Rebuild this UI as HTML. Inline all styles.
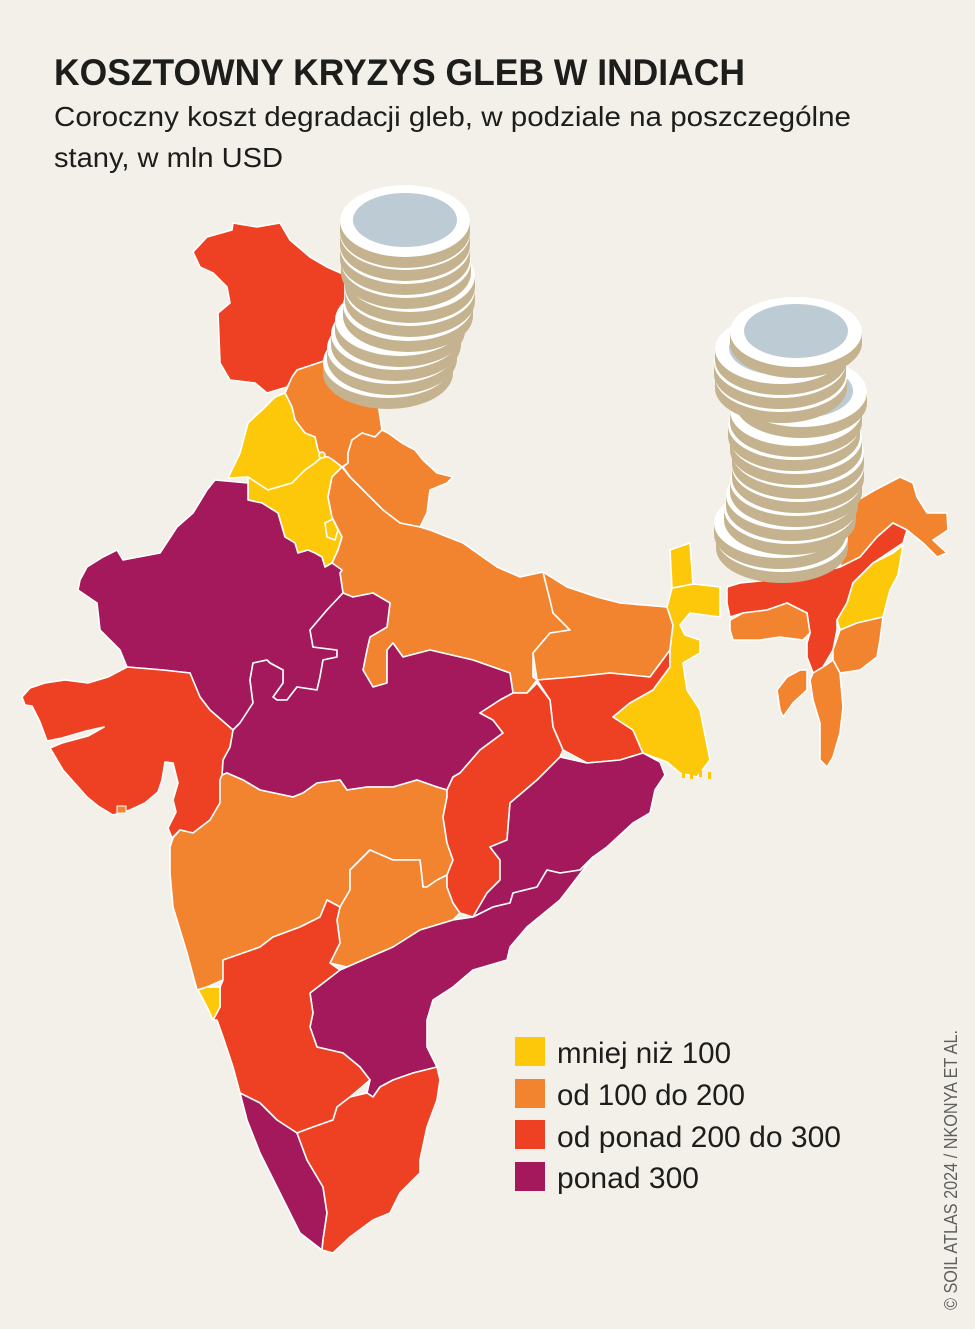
<!DOCTYPE html>
<html><head><meta charset="utf-8">
<style>
html,body{margin:0;padding:0;background:#f3f0e9;}
svg{display:block;}
</style></head>
<body>
<svg width="975" height="1329" viewBox="0 0 975 1329" xmlns="http://www.w3.org/2000/svg">
<defs>
<g id="c1"><ellipse cx="0" cy="11" rx="65" ry="36" fill="#c4b38e"/><rect x="-65" y="0" width="130" height="11" fill="#c4b38e"/><ellipse cx="0" cy="0" rx="65" ry="36" fill="#fff"/><ellipse cx="0" cy="-1" rx="52" ry="27" fill="#bdcbd4"/></g>
<g id="c2"><ellipse cx="0" cy="11" rx="66" ry="35" fill="#c4b38e"/><rect x="-66" y="0" width="132" height="11" fill="#c4b38e"/><ellipse cx="0" cy="0" rx="66" ry="35" fill="#fff"/><ellipse cx="0" cy="-1" rx="52" ry="27" fill="#bdcbd4"/></g>
</defs>
<rect width="975" height="1329" fill="#f3f0e9"/>

<text x="54" y="85" font-family="Liberation Sans, sans-serif" font-weight="bold" font-size="37" fill="#1d1d1b" textLength="691" lengthAdjust="spacingAndGlyphs">KOSZTOWNY KRYZYS GLEB W INDIACH</text>
<text x="54" y="126" font-family="Liberation Sans, sans-serif" font-size="28" fill="#1d1d1b" textLength="797" lengthAdjust="spacingAndGlyphs">Coroczny koszt degradacji gleb, w podziale na poszczególne</text>
<text x="54" y="167" font-family="Liberation Sans, sans-serif" font-size="28" fill="#1d1d1b" textLength="229" lengthAdjust="spacingAndGlyphs">stany, w mln USD</text>

<g stroke="#ffffff" stroke-width="1.6" stroke-linejoin="round">
<!-- J&K red -->
<polygon fill="#ee4123" points="193,252 207,237 232,230 233,223 257,227 280,223 290,240 310,257 327,267 345,275 345,320 337,335 327,360 297,370 287,387 267,393 255,383 230,380 220,363 218,313 230,303 227,287 213,273 200,267"/>
<!-- HP orange -->
<polygon fill="#f2832f" points="285,393 292,377 297,370 327,360 345,362 370,395 378,403 382,430 375,437 362,433 352,440 348,453 348,463 342,467 333,460 328,457 322,457 318,450 315,437 305,433 295,420 292,407"/>
<!-- Punjab yellow -->
<polygon fill="#fec80a" points="275,397 285,393 292,407 295,420 305,433 315,437 318,450 322,457 315,463 305,470 292,483 268,490 248,477 228,478 240,453 248,423 262,410"/>
<!-- Haryana yellow -->
<polygon fill="#fec80a" points="248,477 268,490 292,483 305,470 315,463 322,457 328,457 333,460 342,467 332,477 328,497 332,517 342,537 338,550 332,563 325,567 322,557 315,553 308,550 298,553 295,543 285,537 278,513 262,503 248,500 248,483"/>
<polygon fill="#fec80a" points="325,523 333,519 338,530 335,540 327,537"/>
<circle cx="322" cy="455" r="3" fill="#fec80a"/>
<!-- Uttarakhand orange -->
<polygon fill="#f2832f" points="343,467 348,463 348,453 352,440 362,433 375,437 382,430 388,433 402,443 415,450 423,460 437,473 453,477 447,483 430,490 427,513 420,527 400,523 383,510 363,490 350,477"/>
<!-- UP orange -->
<polygon fill="#f2832f" points="342,467 350,477 363,490 383,510 400,523 420,527 430,530 463,543 497,567 520,577 543,572 550,600 553,613 570,630 550,633 533,653 533,677 537,680 527,693 513,693 510,673 473,660 430,650 403,657 393,643 387,650 387,683 373,687 363,670 367,650 370,637 387,627 390,603 373,593 353,597 343,593 340,573 342,570 332,563 338,550 342,537 332,517 328,497 332,477"/>
<!-- Rajasthan purple -->
<polygon fill="#a3195b" points="78,590 80,580 87,567 103,557 117,550 123,560 160,553 177,527 193,513 207,490 215,480 248,483 248,500 262,503 278,513 285,537 295,543 298,553 308,550 315,553 322,557 325,567 332,563 342,570 340,573 343,593 327,610 310,630 313,647 337,650 337,657 323,660 320,677 317,690 297,687 287,700 277,700 273,697 283,683 283,670 270,663 267,660 253,663 250,680 253,703 240,723 233,730 210,710 200,697 190,673 163,670 127,667 120,650 100,630 97,603"/>
<!-- MP purple -->
<polygon fill="#a3195b" points="233,730 240,723 253,703 250,680 253,663 267,660 270,663 283,670 283,683 273,697 277,700 287,700 297,687 317,690 320,677 323,660 337,657 337,650 313,647 310,630 327,610 343,593 353,597 373,593 390,603 387,627 370,637 367,650 363,670 373,687 387,683 387,650 393,643 403,657 430,650 473,660 510,673 513,693 500,700 480,713 493,720 503,733 480,750 460,773 453,777 447,790 437,787 417,780 393,787 367,787 347,790 340,780 317,783 303,793 293,797 260,790 243,780 227,773 222,775 223,760 230,747"/>
<!-- Gujarat red -->
<polygon fill="#ee4123" points="22,697 30,688 45,683 65,680 88,683 108,677 127,667 163,670 190,673 200,697 210,710 233,730 230,747 223,760 222,775 220,780 220,803 210,820 193,833 180,830 172,838 168,828 176,812 173,800 178,783 173,763 165,762 162,780 158,792 145,803 130,810 113,815 98,806 87,797 63,770 50,748 62,743 88,736 104,727 86,731 62,738 47,741 40,722 32,706 25,705"/>
<rect x="117" y="806" width="9" height="7" fill="#f2832f" stroke-width="1"/>
<!-- Maharashtra orange -->
<polygon fill="#f2832f" points="222,775 227,773 243,780 260,790 293,797 303,793 317,783 340,780 347,790 367,787 393,787 417,780 437,787 447,790 447,797 443,817 447,843 453,860 447,875 437,880 427,887 423,887 420,860 393,860 370,850 350,870 350,890 340,907 327,900 320,917 300,927 273,937 260,947 227,960 223,980 207,987 197,990 187,953 173,907 170,873 170,847 173,838 180,830 193,833 210,820 220,803 220,780"/>
<!-- Telangana orange -->
<polygon fill="#f2832f" points="370,850 393,860 420,860 423,887 427,887 437,880 447,875 447,887 453,903 460,913 453,920 420,930 393,947 347,967 330,963 340,943 337,920 340,907 350,890 350,870"/>
<!-- Bihar orange -->
<polygon fill="#f2832f" points="543,572 567,587 597,597 620,603 667,607 673,625 670,650 650,677 610,673 573,677 537,680 533,653 550,633 570,630 553,613 550,600"/>
<!-- Jharkhand red -->
<polygon fill="#ee4123" points="537,680 573,677 610,673 650,677 670,650 670,667 653,690 630,703 613,717 633,730 643,753 620,760 587,763 563,750 553,727 550,700"/>
<!-- Chhattisgarh red -->
<polygon fill="#ee4123" points="513,693 527,693 537,683 550,700 553,727 563,750 560,757 537,780 510,803 507,840 490,847 500,860 500,880 487,893 473,917 460,913 453,903 447,887 447,875 453,860 447,843 443,817 447,797 447,790 453,777 460,773 480,750 503,733 493,720 480,713 500,700"/>
<!-- Odisha purple -->
<polygon fill="#a3195b" points="560,757 587,763 620,760 643,753 660,762 665,775 655,790 650,813 633,823 607,847 593,857 580,870 560,873 547,870 537,887 513,893 510,903 493,907 473,917 487,893 500,880 500,860 490,847 507,840 510,803 537,780"/>
<!-- West Bengal yellow -->
<polygon fill="#fec80a" points="672,588 693,584 720,587 720,617 690,613 680,625 685,635 700,640 700,653 683,663 687,690 700,710 710,760 697,777 680,773 667,762 643,753 633,730 613,717 630,703 653,690 670,667 670,650 673,625 667,607"/>
<!-- Sikkim -->
<polygon fill="#fec80a" points="670,550 690,543 693,584 672,588"/>
<g fill="#fec80a" stroke="none"><rect x="682" y="771" width="3" height="7"/><rect x="690" y="772" width="3" height="7"/><rect x="699" y="770" width="3" height="7"/><rect x="708" y="772" width="3" height="7"/></g>
<!-- Andhra Pradesh purple -->
<polygon fill="#a3195b" points="347,967 393,947 420,930 453,920 473,917 493,907 510,903 513,893 537,887 547,870 560,873 580,870 593,857 560,900 527,927 510,947 507,960 473,970 453,987 433,1000 427,1020 427,1047 437,1067 413,1073 393,1080 380,1087 373,1097 367,1093 370,1080 360,1067 343,1053 317,1047 310,1027 313,1013 310,993 327,980 340,970"/>
<!-- Karnataka red -->
<polygon fill="#ee4123" points="223,960 260,947 273,937 300,927 320,917 327,900 340,907 337,920 340,943 330,963 340,970 327,980 310,993 313,1013 310,1027 317,1047 343,1053 360,1067 370,1080 350,1097 337,1107 333,1120 313,1127 297,1133 277,1120 260,1103 240,1093 233,1067 223,1037 217,1020 213,1020 220,1007 220,987 223,980"/>
<!-- Goa yellow -->
<polygon fill="#fec80a" points="198,990 207,987 220,987 220,1007 213,1020 207,1007"/>
<!-- Kerala purple -->
<polygon fill="#a3195b" points="240,1093 260,1103 277,1120 297,1133 307,1160 323,1187 327,1213 323,1240 322,1250 300,1233 280,1193 260,1153 247,1120"/>
<!-- Tamil Nadu red -->
<polygon fill="#ee4123" points="297,1133 313,1127 333,1120 337,1107 350,1097 367,1093 373,1097 380,1087 393,1080 413,1073 437,1067 440,1080 437,1100 427,1127 420,1160 420,1173 400,1193 390,1213 373,1220 350,1237 333,1253 322,1250 323,1240 327,1213 323,1187 307,1160"/>
<!-- Northeast -->
<polygon fill="#f2832f" points="845,540 858,500 875,490 900,477 913,483 917,497 927,513 947,513 948,530 933,540 947,553 937,557 923,543 907,530 893,523 877,537 860,557 840,567"/>
<polygon fill="#ee4123" points="727,587 740,583 770,580 803,577 840,567 860,557 877,537 893,523 907,530 903,543 873,563 853,583 847,603 837,620 837,630 833,650 823,667 813,673 807,657 807,643 810,633 807,613 787,603 767,610 743,613 730,617 727,603"/>
<polygon fill="#f2832f" points="730,620 743,613 767,610 787,603 807,613 810,633 803,640 780,637 760,640 733,640 730,630"/>
<polygon fill="#fec80a" points="873,563 893,553 903,545 898,575 890,590 883,617 857,623 840,630 837,620 847,603 853,583"/>
<polygon fill="#f2832f" points="840,630 857,623 883,617 880,640 877,657 860,670 840,673 833,660 833,650"/>
<polygon fill="#f2832f" points="813,673 823,667 833,660 840,673 843,707 840,733 833,757 827,767 820,760 820,723 813,700 810,680"/>
<polygon fill="#f2832f" points="807,670 800,670 787,677 777,690 780,710 783,717 793,703 807,690"/>
</g>

<!-- coin stack 1 -->
<use href="#c1" x="388" y="362"/>
<use href="#c1" x="392" y="348"/>
<use href="#c1" x="396" y="334"/>
<use href="#c1" x="400" y="320"/>
<use href="#c1" x="408" y="305"/>
<use href="#c1" x="410" y="290"/>
<use href="#c1" x="410" y="276"/>
<use href="#c1" x="406" y="262"/>
<use href="#c1" x="405" y="248"/>
<use href="#c1" x="405" y="234"/>
<use href="#c1" x="405" y="221"/>

<!-- coin stack 2 -->
<use href="#c2" x="782" y="537"/>
<use href="#c2" x="780" y="523"/>
<use href="#c2" x="790" y="509"/>
<use href="#c2" x="792" y="495"/>
<use href="#c2" x="796" y="481"/>
<use href="#c2" x="798" y="467"/>
<use href="#c2" x="798" y="453"/>
<use href="#c2" x="796" y="439"/>
<use href="#c2" x="794" y="425"/>
<use href="#c2" x="796" y="411"/>
<use href="#c2" x="801" y="392"/>
<use href="#c2" x="781" y="377"/>
<use href="#c2" x="780" y="363"/>
<use href="#c2" x="781" y="349"/>
<use href="#c2" x="796" y="332"/>

<!-- legend -->
<rect x="515" y="1037" width="30" height="29" fill="#fec80a"/>
<rect x="515" y="1079" width="30" height="29" fill="#f2832f"/>
<rect x="515" y="1120" width="30" height="29" fill="#ee4123"/>
<rect x="515" y="1162" width="30" height="29" fill="#a3195b"/>
<g font-family="Liberation Sans, sans-serif" font-size="30" fill="#1d1d1b">
<text x="557" y="1063" textLength="174" lengthAdjust="spacingAndGlyphs">mniej niż 100</text>
<text x="557" y="1105" textLength="188" lengthAdjust="spacingAndGlyphs">od 100 do 200</text>
<text x="557" y="1147" textLength="284" lengthAdjust="spacingAndGlyphs">od ponad 200 do 300</text>
<text x="557" y="1188" textLength="142" lengthAdjust="spacingAndGlyphs">ponad 300</text>
</g>

<text transform="translate(957,1310) rotate(-90)" font-family="Liberation Sans, sans-serif" font-size="18" fill="#5f5f5f" textLength="280" lengthAdjust="spacingAndGlyphs">© SOIL ATLAS 2024 / NKONYA ET AL.</text>
</svg>
</body></html>
